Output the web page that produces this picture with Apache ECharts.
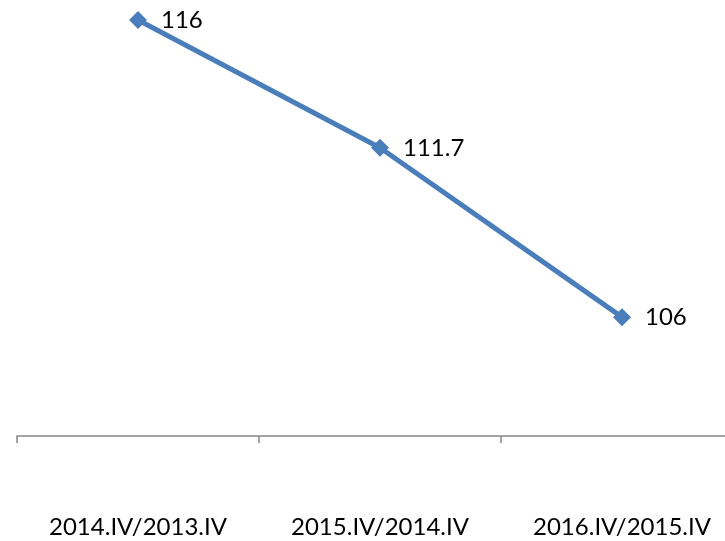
<!DOCTYPE html>
<html><head><meta charset="utf-8">
<script src="https://cdn.jsdelivr.net/npm/echarts@6/dist/echarts.min.js"></script>
<style>html,body{margin:0;padding:0;background:#fff;overflow:hidden}#c{width:780px;height:541px}</style>
</head><body><div id="c"></div>
<script>
const categories = ['2014.IV/2013.IV', '2015.IV/2014.IV', '2016.IV/2015.IV'];
const values = [116, 111.7, 106];
const chart = echarts.init(document.getElementById('c'));
chart.setOption({
  animation: false,
  grid: { left: 17, top: 20, width: 726, height: 416, containLabel: false },
  xAxis: {
    type: 'category', data: categories, boundaryGap: true,
    axisLine: { lineStyle: { color: '#868686', width: 1.5 } },
    axisTick: { show: true, length: 7, lineStyle: { color: '#868686', width: 1.5 } },
    axisLabel: { color: '#000', fontSize: 24, fontFamily: 'Lato', margin: 79, interval: 0 }
  },
  yAxis: { type: 'value', min: 102, max: 116, show: false, splitLine: { show: false } },
  series: [{
    type: 'line', data: values,
    symbol: 'diamond', symbolSize: 18,
    lineStyle: { color: '#4A7EBB', width: 5 },
    itemStyle: { color: '#4A7EBB' },
    label: { show: true, position: 'right', distance: 14, color: '#000', fontSize: 24, fontFamily: 'Lato' }
  }]
});
</script></body></html>
